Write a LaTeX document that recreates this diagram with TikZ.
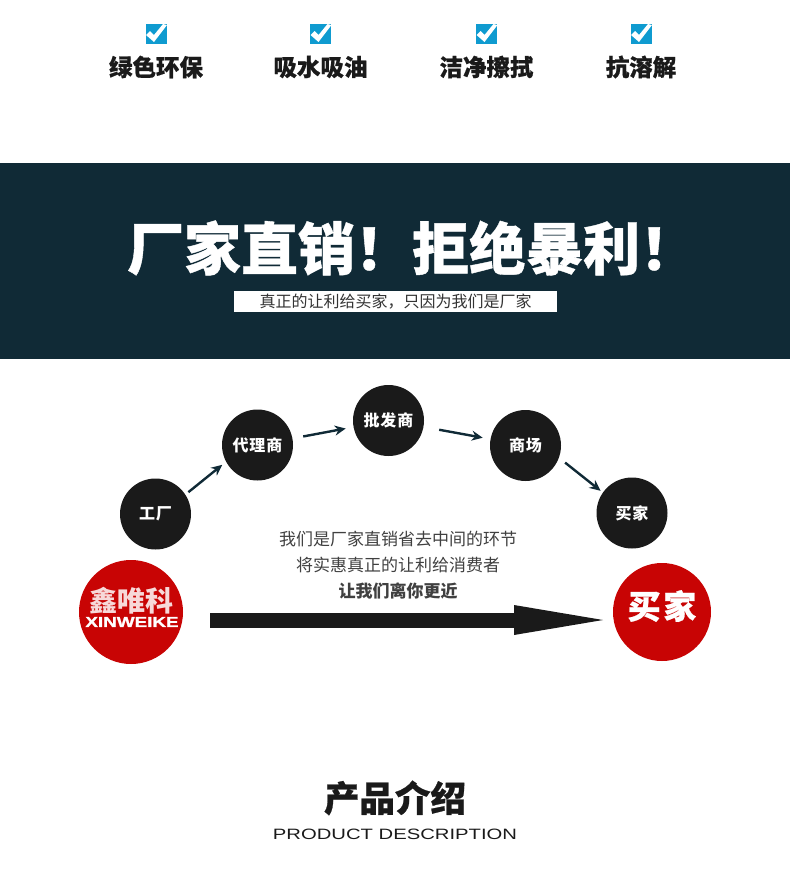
\documentclass[tikz,border=0pt]{standalone}
\usepackage{fontspec}
\setmainfont{Liberation Sans}
\newfontfamily\cjk{Noto Sans CJK SC}
\newfontfamily\cjkdisc[LetterSpace=6]{Noto Sans CJK SC}
\newfontfamily\cjkheavy[FakeBold=0.7]{Noto Sans CJK SC Black}
\newfontfamily\cjkbig[LetterSpace=8, FakeBold=0.7]{Noto Sans CJK SC Black}
\newfontfamily\wide[FakeStretch=1.35]{Liberation Sans}
\newfontfamily\widebrand[FakeStretch=1.3, FakeBold=1.5]{Liberation Sans Bold}
\newcommand{\sizept}[1]{\fontsize{#1}{#1}\selectfont}
\usetikzlibrary{arrows, arrows.meta, positioning}
\definecolor{bandblue}{HTML}{102A36}
\definecolor{tickblue}{HTML}{0F9BD0}
\definecolor{discblack}{HTML}{1A1A1A}
\definecolor{discred}{HTML}{C80404}
\tikzset{
    >={Stealth[length=11pt, width=10pt]}, % arrow heads of the small links
    every node/.style={inner sep=0pt, outer sep=0pt},
    tickbox/.style={fill=tickblue, minimum width=21pt, minimum height=20pt}, % blue box above a feature
    feature/.style={text=discblack, font=\cjkheavy\sizept{23.5}},
    disc/.style={circle, fill=discblack, text=white, minimum size=71pt, font=\cjkdisc\bfseries\sizept{16}}, % a link of the chain
    reddisc/.style={circle, fill=discred, text=white},
    link/.style={->, line width=2.4pt, draw=bandblue},
    bodytext/.style={text=black!75, font=\cjk\sizept{17}},
}
\begin{document}
\begin{tikzpicture}[x=1pt, y=-1pt]
    \useasboundingbox (0,0) rectangle (790,873);

    % the four features
    \foreach \boxname/\xpos/\txt in {a/156/绿色环保, b/320.5/吸水吸油, c/486.5/洁净擦拭, d/641/抗溶解}{
        \node[tickbox] (tick\boxname) at (\xpos,34) {};
        \fill[white] (\xpos-10,35) -- (\xpos-6,31) -- (\xpos-2,35) -- (\xpos+7,24) -- (\xpos+11,25)
            -- (\xpos-2,42) -- cycle;
        \node[feature] (label\boxname) at (\xpos,67) {\txt};
    }

    % band
    \fill[bandblue] (0,163) rectangle (790,359);
    \node[anchor=west, text=white, font=\cjkheavy\sizept{57}] (headline) at (127,248) {厂家直销！拒绝暴利！};
    \node[fill=white, minimum width=323pt, minimum height=21pt, text=black!80, font=\cjk\sizept{16}] (subline) at (395.5,301.5) {真正的让利给买家，只因为我们是厂家};

    % chain
    \node[disc] (factory) at (155.5,514) {工厂};
    \node[disc] (agent) at (257.5,445) {代理商};
    \node[disc] (wholesaler) at (388.5,420.5) {批发商};
    \node[disc] (market) at (525.5,445.5) {商场};
    \node[disc] (buyer) at (632,513) {买家};

    \draw[link, shorten <=4pt, shorten >=5pt] (factory.33) -- (agent.208);
    \draw[link, shorten <=11pt, shorten >=8pt] (agent) -- (wholesaler);
    \draw[link, shorten <=16pt, shorten >=8pt] (wholesaler) -- (market);
    \draw[link, shorten <=8pt, shorten >=3pt] (market.-20) -- (buyer.145);

    % red ends
    \node[reddisc, minimum size=104pt] (brand) at (131,612) {};
    \node[text=white!85!discred, font=\cjk\bfseries\sizept{28}] (brandcn) at (131,601) {鑫唯科};
    \node[text=white, font=\widebrand\sizept{14.5}] (brandlatin) at (132,622) {XINWEIKE};
    \node[reddisc, minimum size=98pt] (bigbuyer) at (662,612) {};
    \node[text=white, font=\cjkbig\sizept{33}] (bigbuyertext) at (662,606) {买家};

    \coordinate (shaftstart) at (210,620);
    \coordinate (shafttip) at (603,620);
    \draw[line width=15pt, draw=discblack, -{Triangle[length=89pt, width=30pt, line width=0pt]}] (shaftstart) -- (shafttip);

    % middle text
    \node[bodytext] (lineone) at (398,539) {我们是厂家直销省去中间的环节};
    \node[bodytext, below=10pt of lineone] (linetwo) {将实惠真正的让利给消费者};
    \node[bodytext, below=10pt of linetwo, font=\cjk\bfseries\sizept{17}] (linethree) {让我们离你更近};

    % footer
    \node[text=discblack, font=\cjkheavy\sizept{35.5}] (footer) at (395,798) {产品介绍};
    \node[text=discblack, font=\wide\sizept{15}] (footeren) at (395,834) {PRODUCT DESCRIPTION};
\end{tikzpicture}
\end{document}
